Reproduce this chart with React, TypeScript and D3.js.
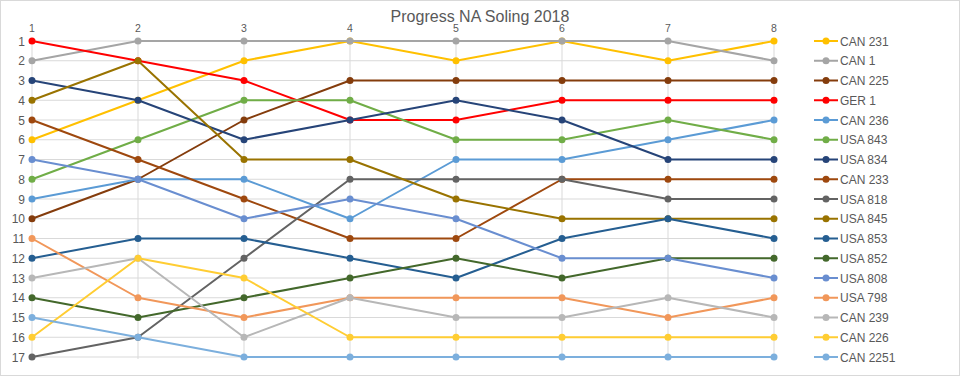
import React from "react";
import * as d3 from "d3";

const races = [1, 2, 3, 4, 5, 6, 7, 8];
const ranks = d3.range(1, 18);

const boats = [
  "CAN 231", "CAN 1", "CAN 225", "GER 1", "CAN 236", "USA 843", "USA 834", "CAN 233",
  "USA 818", "USA 845", "USA 853", "USA 852", "USA 808", "USA 798", "CAN 239", "CAN 226", "CAN 2251",
];

const can231 = [6, 4, 2, 1, 2, 1, 2, 1];
const can1 = [2, 1, 1, 1, 1, 1, 1, 2];
const can225 = [10, 8, 5, 3, 3, 3, 3, 3];
const ger1 = [1, 2, 3, 5, 5, 4, 4, 4];
const can236 = [9, 8, 8, 10, 7, 7, 6, 5];
const usa843 = [8, 6, 4, 4, 6, 6, 5, 6];
const usa834 = [3, 4, 6, 5, 4, 5, 7, 7];
const can233 = [5, 7, 9, 11, 11, 8, 8, 8];
const usa818 = [17, 16, 12, 8, 8, 8, 9, 9];
const usa845 = [4, 2, 7, 7, 9, 10, 10, 10];
const usa853 = [12, 11, 11, 12, 13, 11, 10, 11];
const usa852 = [14, 15, 14, 13, 12, 13, 12, 12];
const usa808 = [7, 8, 10, 9, 10, 12, 12, 13];
const usa798 = [11, 14, 15, 14, 14, 14, 15, 14];
const can239 = [13, 12, 16, 14, 15, 15, 14, 15];
const can226 = [16, 12, 13, 16, 16, 16, 16, 16];
const can2251 = [15, 16, 17, 17, 17, 17, 17, 17];

const seriesValues = [
  can231, can1, can225, ger1, can236, usa843, usa834, can233,
  usa818, usa845, usa853, usa852, usa808, usa798, can239, can226, can2251,
];

const colors = [
  "#FFC000", "#A5A5A5", "#843C0C", "#FF0000", "#5B9BD5", "#70AD47", "#264478", "#9E480E",
  "#636363", "#997300", "#255E91", "#43682B", "#698ED0", "#F1975A", "#B7B7B7", "#FFCD33", "#7CAFDD",
];

const title = "Progress NA Soling 2018";

export default function App() {
  const W = 960;
  const H = 376;
  const x = d3.scalePoint<number>().domain(races).range([32, 774]);
  const y = d3.scaleLinear().domain([1, 17]).range([41, 357]);
  const line = d3
    .line<number>()
    .x((_, i) => x(races[i]) as number)
    .y((d) => y(d));
  const font = "'Liberation Sans', Arial, sans-serif";
  const legendY = d3.scaleLinear().domain([0, 16]).range([41, 357]);

  return (
    <div style={{ position: "fixed", left: 0, top: 0 }}>
      <svg width={W} height={H} style={{ display: "block", background: "#fff" }}>
        <rect x={0.5} y={0.5} width={W - 1} height={H - 1} fill="#fff" stroke="#D9D9D9" />
        <text x={480} y={22} textAnchor="middle" fontFamily={font} fontSize={16} fill="#595959">
          {title}
        </text>
        {ranks.map((r) => (
          <line key={"h" + r} x1={32} x2={774} y1={y(r)} y2={y(r)} stroke="#D9D9D9" strokeWidth={1} />
        ))}
        {races.map((r) => (
          <line key={"v" + r} x1={x(r)} x2={x(r)} y1={y(1)} y2={y(17) + 2} stroke="#D9D9D9" strokeWidth={1} />
        ))}
        {races.map((r) => (
          <text key={"xl" + r} x={x(r)} y={32} textAnchor="middle" fontFamily={font} fontSize={10.5} fill="#595959">
            {r}
          </text>
        ))}
        {ranks.map((r) => (
          <text key={"yl" + r} x={25} y={y(r) + 4.5} textAnchor="end" fontFamily={font} fontSize={12} fill="#595959">
            {r}
          </text>
        ))}
        {seriesValues.map((vals, si) => (
          <g key={"s" + si}>
            <path d={line(vals) || ""} fill="none" stroke={colors[si]} strokeWidth={2} strokeLinejoin="round" />
            {vals.map((v, i) => (
              <circle key={i} cx={x(races[i])} cy={y(v)} r={3.5} fill={colors[si]} />
            ))}
          </g>
        ))}
        {boats.map((b, i) => (
          <g key={"lg" + i}>
            <line x1={814} x2={838} y1={legendY(i)} y2={legendY(i)} stroke={colors[i]} strokeWidth={2} />
            <circle cx={826} cy={legendY(i)} r={3.5} fill={colors[i]} />
            <text x={840} y={legendY(i) + 4.5} fontFamily={font} fontSize={12} fill="#595959">
              {b}
            </text>
          </g>
        ))}
      </svg>
    </div>
  );
}
